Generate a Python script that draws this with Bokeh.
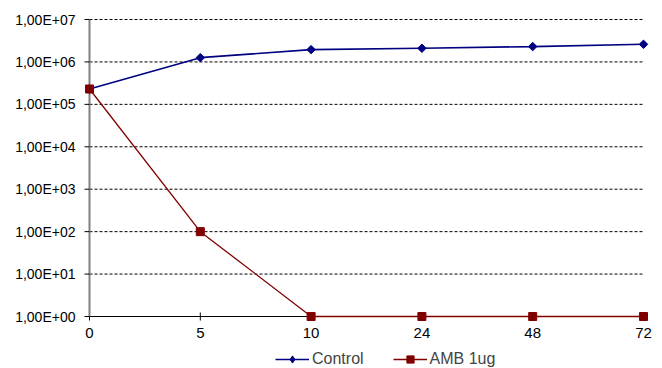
from bokeh.plotting import figure
from bokeh.models import (Range1d, FixedTicker, CustomJSTickFormatter, Legend, LegendItem)
from bokeh.core.properties import value
from bokeh.embed import file_html
from bokeh.resources import INLINE
import numpy as np

# ---- data ----
time_labels = ["0", "5", "10", "24", "48", "72"]
control = [2.3e5, 1.26e6, 1.95e6, 2.1e6, 2.3e6, 2.6e6]
amb_1ug = [2.3e5, 1.0e2, 1.0, 1.0, 1.0, 1.0]
y_tick_values = [1e0, 1e1, 1e2, 1e3, 1e4, 1e5, 1e6, 1e7]
y_tick_labels = ["1,00E+00", "1,00E+01", "1,00E+02", "1,00E+03",
                 "1,00E+04", "1,00E+05", "1,00E+06", "1,00E+07"]

x_idx = list(range(len(time_labels)))
FONT = "Liberation Sans"

# ---- layout (pixels) ----
W, H = 662, 368
PLOT_L, PLOT_R, PLOT_T, PLOT_B = 89, 643, 19, 316   # data-area edges
FRAME_L, FRAME_R, FRAME_T, FRAME_B = PLOT_L - 6, W, PLOT_T - 6, H

n = len(time_labels) - 1
px_per_x = (PLOT_R - PLOT_L) / n
ldec = np.log10(y_tick_values[-1]) - np.log10(y_tick_values[0])
px_per_dec = (PLOT_B - PLOT_T) / ldec
x_start = x_idx[0] - (PLOT_L - FRAME_L) / px_per_x
x_end = x_idx[-1] + (FRAME_R - PLOT_R) / px_per_x
y_start = 10 ** (np.log10(y_tick_values[0]) - (FRAME_B - PLOT_B) / px_per_dec)
y_end = 10 ** (np.log10(y_tick_values[-1]) + (PLOT_T - FRAME_T) / px_per_dec)

p = figure(width=W, height=H, y_axis_type="log", x_axis_type=None,
           x_range=Range1d(x_start, x_end), y_range=Range1d(y_start, y_end),
           output_backend="svg", toolbar_location=None,
           min_border_left=FRAME_L, min_border_right=W - FRAME_R,
           min_border_top=FRAME_T, min_border_bottom=0)
p.outline_line_color = None
p.background_fill_color = "white"
p.xgrid.grid_line_color = None
p.ygrid.grid_line_color = None

# y axis: labels only (line and ticks drawn below as glyphs)
p.yaxis.ticker = FixedTicker(ticks=y_tick_values)
p.yaxis.formatter = CustomJSTickFormatter(args=dict(labels=y_tick_labels),
                                          code="return labels[Math.round(Math.log10(tick))];")
p.yaxis.axis_line_color = None
p.yaxis.major_tick_line_color = None
p.yaxis.minor_tick_line_color = None
p.yaxis.major_label_standoff = 2
p.yaxis.major_label_text_font = FONT
p.yaxis.major_label_text_font_size = "14px"
p.yaxis.major_label_text_color = "black"

# grid lines (dashed) across the data area
p.segment(x0=x_idx[0], x1=x_idx[-1], y0=y_tick_values[1:], y1=y_tick_values[1:],
          line_color="black", line_dash="3 2", line_width=1)
# x axis line and ticks
p.segment(x0=x_idx[0], x1=x_idx[-1], y0=y_tick_values[0], y1=y_tick_values[0],
          line_color="black", line_width=1)
p.scatter(x_idx, [y_tick_values[0]] * len(x_idx), marker="dash", angle=np.pi / 2,
          size=8, line_color="black", line_width=1)
# y axis line and ticks
p.segment(x0=x_idx[0], x1=x_idx[0], y0=y_tick_values[0], y1=y_tick_values[-1],
          line_color="#808080", line_width=2)
p.ray(x=[x_idx[0]] * len(y_tick_values), y=y_tick_values, length=5,
      length_units="screen", angle=np.pi, line_color="black", line_width=1)
# x tick labels
p.text(x=x_idx, y=[y_tick_values[0]] * len(x_idx), text=time_labels,
       y_offset=16, text_align="center", text_baseline="middle",
       text_font=value(FONT), text_font_size="15px", text_color="black")

navy = "#000080"
maroon = "#800000"

l1 = p.line(x_idx, control, line_color=navy, line_width=1.6)
s1 = p.scatter(x_idx, control, marker="square", angle=np.pi / 4, size=6,
               fill_color=navy, line_color=navy)
l2 = p.line(x_idx, amb_1ug, line_color=maroon, line_width=1.3)
s2 = p.scatter(x_idx, amb_1ug, marker="square", size=8,
               fill_color=maroon, line_color=maroon)
# legend swatch: diamond marker of zero size on the plot (legend sizes it itself)
s1_key = p.scatter(x_idx, control, marker="diamond", size=0,
                   fill_color=navy, line_color=navy)

legend = Legend(items=[LegendItem(label="Control", renderers=[l1, s1_key]),
                       LegendItem(label="AMB 1ug", renderers=[l2, s2])],
                orientation="horizontal", location=(275 - FRAME_L, 0),
                border_line_color=None, background_fill_alpha=0,
                padding=0, margin=0, spacing=29, label_standoff=3,
                glyph_width=34, glyph_height=18,
                label_text_font=FONT, label_text_font_size="16px",
                label_height=18)
p.add_layout(legend, "center")

open("out.html", "w").write(file_html(p, INLINE))
